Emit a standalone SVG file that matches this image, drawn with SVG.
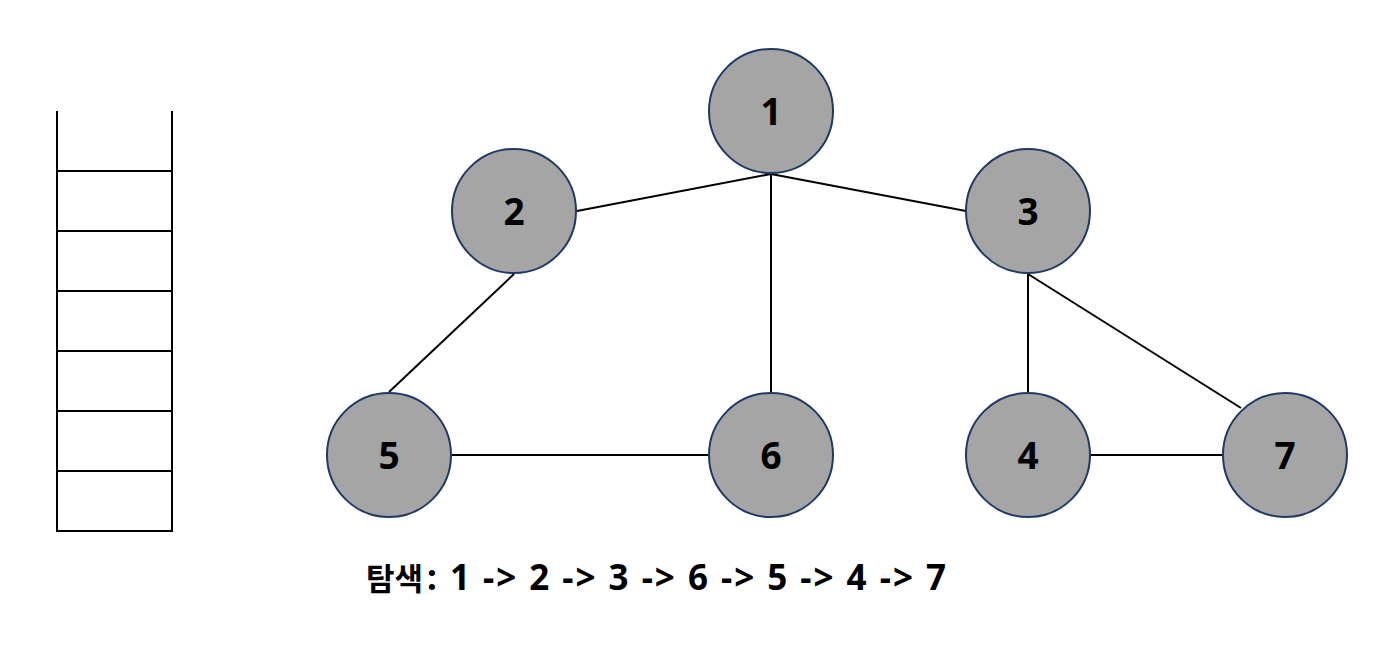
<svg xmlns="http://www.w3.org/2000/svg" width="1399" height="655" viewBox="0 0 1399 655">
<style>
.n{fill:#A5A5A5;stroke:#1F3864;stroke-width:2}
.l{font-family:"Noto Sans","Noto Sans CJK KR",sans-serif;font-weight:bold;font-size:37px;fill:#000;text-anchor:middle}
.e{stroke:#000;stroke-width:2;fill:none}
.s{stroke:#000;stroke-width:2;fill:none}
.t{font-family:"Noto Sans","Noto Sans CJK KR",sans-serif;font-weight:bold;font-size:35px;fill:#000}
</style>
<rect width="1399" height="655" fill="#fff"/>
<g id="stack">
<path class="s" d="M57,111 V531 H172 V111"/>
<path class="s" d="M57,171 H172 M57,231 H172 M57,291 H172 M57,351 H172 M57,411 H172 M57,471 H172"/>
</g>
<g id="connectors">
<line class="e" x1="771" y1="174" x2="577" y2="211"/>
<line class="e" x1="771" y1="174" x2="966" y2="211"/>
<line class="e" x1="771" y1="174" x2="771" y2="392"/>
<line class="e" x1="514" y1="274" x2="389" y2="392"/>
<line class="e" x1="452" y1="455" x2="709" y2="455"/>
<line class="e" x1="1028" y1="274" x2="1028" y2="392"/>
<line class="e" x1="1028" y1="274" x2="1241" y2="408"/>
<line class="e" x1="1091" y1="455" x2="1222" y2="455"/>
</g>
<g id="node1"><circle class="n" cx="771" cy="111" r="62"/><text class="l" x="771" y="125">1</text></g>
<g id="node2"><circle class="n" cx="514" cy="211" r="62"/><text class="l" x="514" y="225">2</text></g>
<g id="node3"><circle class="n" cx="1028" cy="211" r="62"/><text class="l" x="1028" y="225">3</text></g>
<g id="node5"><circle class="n" cx="389" cy="455" r="62"/><text class="l" x="389" y="469">5</text></g>
<g id="node6"><circle class="n" cx="771" cy="455" r="62"/><text class="l" x="771" y="469">6</text></g>
<g id="node4"><circle class="n" cx="1028" cy="455" r="62"/><text class="l" x="1028" y="469">4</text></g>
<g id="node7"><circle class="n" cx="1285" cy="455" r="62"/><text class="l" x="1285" y="469">7</text></g>
<g id="caption">
<text class="t" x="366" y="590" style="font-family:'Noto Sans CJK KR',sans-serif;font-size:31px">탐색</text>
<text class="t" x="427" y="590" xml:space="preserve" textLength="519" lengthAdjust="spacing">: 1 -&gt; 2 -&gt; 3 -&gt; 6 -&gt; 5 -&gt; 4 -&gt; 7</text>
</g>
</svg>
